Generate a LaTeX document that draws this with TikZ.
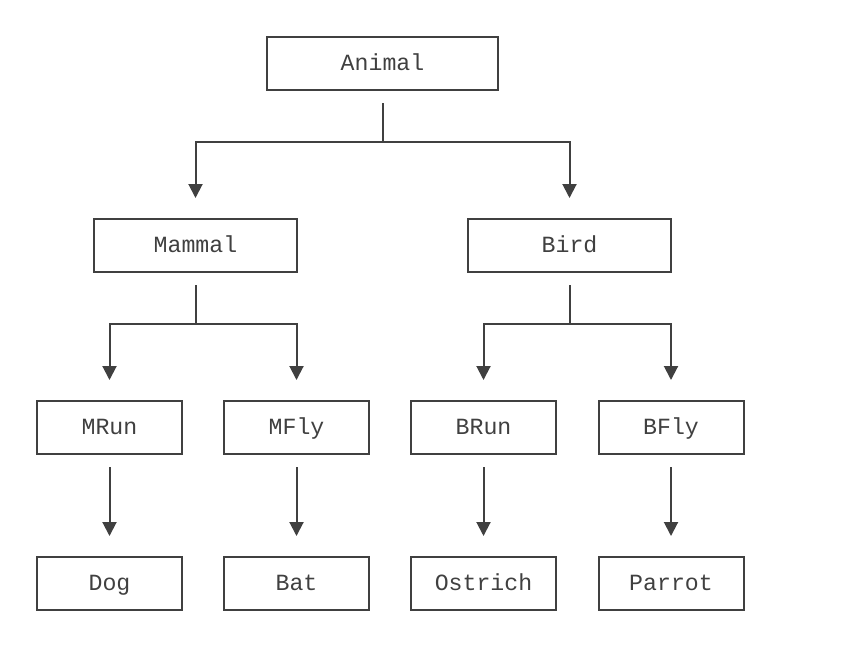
\documentclass[tikz,border=0pt]{standalone}
\usepackage{fontspec}
\setmonofont{Liberation Mono}
\usetikzlibrary{arrows.meta}
\usetikzlibrary{calc}
\definecolor{ink}{HTML}{404040}

\begin{document}
\begin{tikzpicture}[x=0.5pt, y=-0.5pt,
    box/.style={draw=ink, line width=1pt, text=ink, inner sep=0pt, minimum height=26.5pt, text height=1.85ex, text depth=0.15ex, font=\ttfamily\fontsize{11.6}{14}\selectfont},
    link/.style={draw=ink, line width=1pt, -{Triangle[width=7pt, length=7pt]}, shorten <=6pt, shorten >=10pt}]
  \useasboundingbox (0,0) rectangle (860,658);

  \node[box, minimum width=115.5pt] (animal) at (382.5,63.5) {Animal};

  \node[box, minimum width=101.5pt] (mammal) at (195.5,245.5) {Mammal};
  \node[box, minimum width=101.5pt] (bird) at (569.5,245.5) {Bird};

  \node[box, minimum width=72.5pt] (mrun) at (109.5,427.5) {MRun};
  \node[box, minimum width=72.5pt] (mfly) at (296.5,427.5) {MFly};
  \node[box, minimum width=72.5pt] (brun) at (483.5,427.5) {BRun};
  \node[box, minimum width=72.5pt] (bfly) at (671,427.5) {BFly};

  \node[box, minimum width=72.5pt] (dog) at (109.5,583.5) {Dog};
  \node[box, minimum width=72.5pt] (bat) at (296.5,583.5) {Bat};
  \node[box, minimum width=72.5pt] (ostrich) at (483.5,583.5) {Ostrich};
  \node[box, minimum width=72.5pt] (parrot) at (671,583.5) {Parrot};

  % forks
  \coordinate (animal-fork) at ($(animal.south)+(0,51)$);
  \coordinate (mammal-fork) at ($(mammal.south)+(0,51)$);
  \coordinate (bird-fork) at ($(bird.south)+(0,51)$);

  \draw[link] (animal.south) -- (animal-fork) -| (mammal.north);
  \draw[link] (animal.south) -- (animal-fork) -| (bird.north);
  \draw[link] (mammal.south) -- (mammal-fork) -| (mrun.north);
  \draw[link] (mammal.south) -- (mammal-fork) -| (mfly.north);
  \draw[link] (bird.south) -- (bird-fork) -| (brun.north);
  \draw[link] (bird.south) -- (bird-fork) -| (bfly.north);

  \draw[link] (mrun) -- (dog);
  \draw[link] (mfly) -- (bat);
  \draw[link] (brun) -- (ostrich);
  \draw[link] (bfly) -- (parrot);
\end{tikzpicture}
\end{document}
